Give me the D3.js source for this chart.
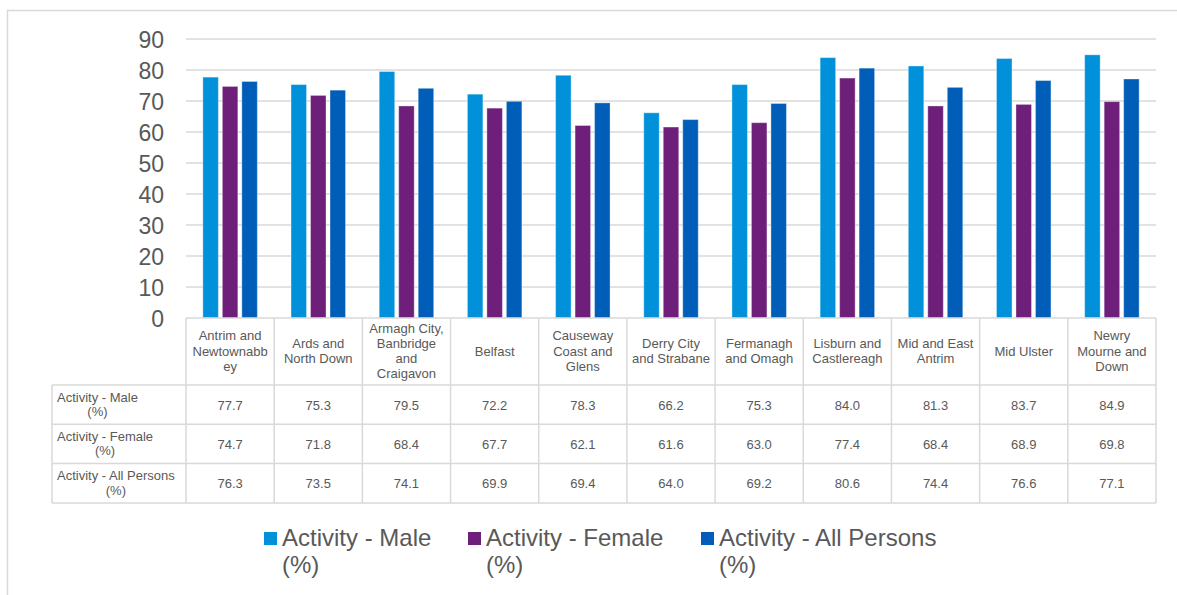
<!DOCTYPE html>
<html>
<head>
<meta charset="utf-8">
<script src="https://cdn.jsdelivr.net/npm/d3@7"></script>
<style>
  html, body { margin: 0; padding: 0; background: #fff; }
  svg { display: block; font-family: "Liberation Sans", Arial, sans-serif; }
</style>
</head>
<body>
<svg id="chart" width="1177" height="595"></svg>
<script>
const categories = [
  "Antrim and Newtownabbey", "Ards and North Down", "Armagh City, Banbridge and Craigavon",
  "Belfast", "Causeway Coast and Glens", "Derry City and Strabane", "Fermanagh and Omagh",
  "Lisburn and Castlereagh", "Mid and East Antrim", "Mid Ulster", "Newry Mourne and Down"
];
const headerLines = [
  ["Antrim and", "Newtownabb", "ey"], ["Ards and", "North Down"],
  ["Armagh City,", "Banbridge", "and", "Craigavon"], ["Belfast"],
  ["Causeway", "Coast and", "Glens"], ["Derry City", "and Strabane"],
  ["Fermanagh", "and Omagh"], ["Lisburn and", "Castlereagh"],
  ["Mid and East", "Antrim"], ["Mid Ulster"], ["Newry", "Mourne and", "Down"]
];
const seriesNames = ["Activity - Male (%)", "Activity - Female (%)", "Activity - All Persons (%)"];
const seriesLabelLines = [["Activity - Male", "(%)"], ["Activity - Female", "(%)"], ["Activity - All Persons", "(%)"]];
const maleValues   = [77.7, 75.3, 79.5, 72.2, 78.3, 66.2, 75.3, 84.0, 81.3, 83.7, 84.9];
const femaleValues = [74.7, 71.8, 68.4, 67.7, 62.1, 61.6, 63.0, 77.4, 68.4, 68.9, 69.8];
const allValues    = [76.3, 73.5, 74.1, 69.9, 69.4, 64.0, 69.2, 80.6, 74.4, 76.6, 77.1];
const yTicks = [0, 10, 20, 30, 40, 50, 60, 70, 80, 90];
const colors = ["#0091DA", "#6D1F79", "#005EB8"];

const seriesValues = [maleValues, femaleValues, allValues];
const svg = d3.select("#chart");
const textColor = "#595959";
const lineColor = "#D9D9D9";

// outer frame
svg.append("rect").attr("x", 7.5).attr("y", 10.5).attr("width", 1200).attr("height", 700)
  .attr("fill", "none").attr("stroke", lineColor).attr("stroke-width", 1.5);

const plotLeft = 186, plotRight = 1156, plotTop = 39, plotBottom = 318;
const y = d3.scaleLinear().domain([0, 90]).range([plotBottom, plotTop]);
const x = d3.scaleBand().domain(categories).range([plotLeft, plotRight]).padding(0);
const groupPad = 16.85;
const xs = d3.scaleBand().domain(seriesNames)
  .range([groupPad, x.bandwidth() - groupPad]).paddingInner(0.205).paddingOuter(0);

// gridlines
svg.append("g").selectAll("line").data(yTicks.filter(d => d > 0)).join("line")
  .attr("x1", plotLeft).attr("x2", plotRight)
  .attr("y1", d => y(d)).attr("y2", d => y(d))
  .attr("stroke", lineColor).attr("stroke-width", 1.5);

// y axis
const yAxis = d3.axisLeft(y).tickValues(yTicks).tickSize(0).tickPadding(0).tickFormat(d3.format("d"));
const yg = svg.append("g").attr("transform", "translate(164,0)").call(yAxis);
yg.select(".domain").remove();
yg.selectAll("text").attr("fill", textColor).attr("font-size", 23)
  .attr("font-family", "'Liberation Sans', Arial, sans-serif").attr("dy", "0.35em");

// bars
const barData = [];
categories.forEach((c, i) => seriesNames.forEach((s, j) => barData.push({ c, s, j, v: seriesValues[j][i] })));
svg.append("g").selectAll("rect").data(barData).join("rect")
  .attr("x", d => x(d.c) + xs(d.s))
  .attr("width", xs.bandwidth())
  .attr("y", d => y(d.v))
  .attr("height", d => y(0) - y(d.v))
  .attr("fill", d => colors[d.j])
  .attr("stroke", "rgba(255,255,255,0.35)").attr("stroke-width", 1);

// data table
const headerBottom = 385;
const rowH = 39.3;
const tableLeft = 52;
const rowY = seriesNames.map((s, i) => headerBottom + i * rowH);
const tableBottom = headerBottom + seriesNames.length * rowH;
const tg = svg.append("g");

// horizontal lines
tg.append("line").attr("x1", plotLeft).attr("x2", plotRight).attr("y1", plotBottom).attr("y2", plotBottom)
  .attr("stroke", lineColor).attr("stroke-width", 1.5);
tg.selectAll("line.h").data(rowY.concat([tableBottom])).join("line").attr("class", "h")
  .attr("x1", tableLeft).attr("x2", plotRight).attr("y1", d => d).attr("y2", d => d)
  .attr("stroke", lineColor).attr("stroke-width", 1.5);
// vertical lines
const vx = categories.map(c => x(c)).concat([plotRight]);
tg.selectAll("line.v").data(vx).join("line").attr("class", "v")
  .attr("x1", d => d).attr("x2", d => d).attr("y1", plotBottom).attr("y2", tableBottom)
  .attr("stroke", lineColor).attr("stroke-width", 1.5);
tg.append("line").attr("x1", tableLeft).attr("x2", tableLeft).attr("y1", headerBottom).attr("y2", tableBottom)
  .attr("stroke", lineColor).attr("stroke-width", 1.5);

// header labels
const headerMid = 355.5, headerLH = 15.2;
categories.forEach((c, i) => {
  const lines = headerLines[i];
  tg.append("g").selectAll("text").data(lines).join("text")
    .attr("x", x(c) + x.bandwidth() / 2)
    .attr("y", (d, k) => headerMid + (k - (lines.length - 1) / 2) * headerLH)
    .attr("text-anchor", "middle").attr("font-size", 13).attr("fill", textColor)
    .text(d => d);
});

// row labels and values
seriesNames.forEach((s, j) => {
  const cy = rowY[j] + rowH / 2;
  const lines = seriesLabelLines[j];
  const t1 = tg.append("text").attr("x", 57).attr("y", cy - 3)
    .attr("font-size", 13).attr("fill", textColor).text(lines[0]);
  const w = t1.node().getComputedTextLength();
  tg.append("text").attr("x", 57 + w / 2).attr("y", cy + 11.5).attr("text-anchor", "middle")
    .attr("font-size", 13).attr("fill", textColor).text(lines[1]);
  tg.append("g").selectAll("text").data(categories).join("text")
    .attr("x", c => x(c) + x.bandwidth() / 2)
    .attr("y", cy + 5)
    .attr("text-anchor", "middle").attr("font-size", 13).attr("fill", textColor)
    .text((c, i) => d3.format(".1f")(seriesValues[j][i]));
});

// legend
const legendX = [264, 468, 701];
const lg = svg.append("g");
seriesNames.forEach((s, j) => {
  lg.append("rect").attr("x", legendX[j]).attr("y", 532).attr("width", 13).attr("height", 13)
    .attr("fill", colors[j]);
  lg.append("g").selectAll("text").data(seriesLabelLines[j]).join("text")
    .attr("x", legendX[j] + 18).attr("y", (d, k) => 545.5 + k * 27)
    .attr("font-size", 24).attr("fill", textColor).text(d => d);
});
</script>
</body>
</html>
